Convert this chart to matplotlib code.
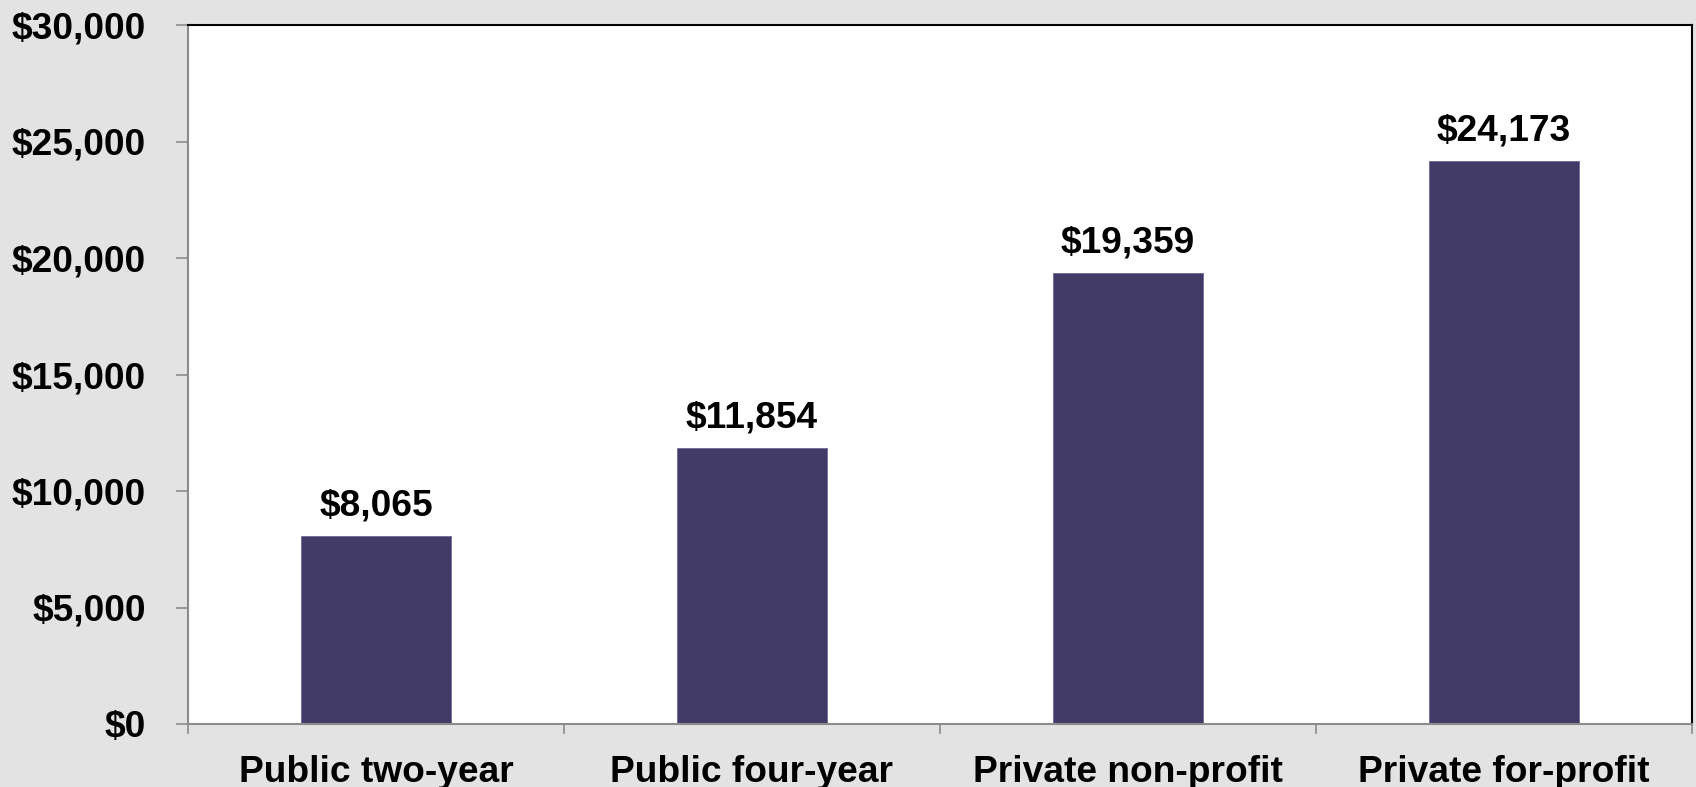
import matplotlib
matplotlib.use("Agg")
import matplotlib.pyplot as plt
import numpy as np
from matplotlib.ticker import FuncFormatter, FixedLocator

categories = ["Public two-year", "Public four-year", "Private non-profit", "Private for-profit"]
values = [8065, 11854, 19359, 24173]
y_ticks = [0, 5000, 10000, 15000, 20000, 25000, 30000]

plt.rcParams["font.family"] = ["Liberation Sans", "DejaVu Sans"]
plt.rcParams["font.weight"] = "bold"

bg = "#e3e3e3"
bar_color = "#433b67"
axis_gray = "#8c8c8c"
fs = 26.7

fig = plt.figure(figsize=(16.96, 7.87), dpi=100, facecolor=bg)
ax = fig.add_axes([188 / 1696, 1 - 724 / 787, (1692 - 188) / 1696, (724 - 25) / 787])
ax.set_facecolor("white")

x = np.arange(len(categories))
bars = ax.bar(x, values, width=0.40, color=bar_color, edgecolor="#6e6890", linewidth=0.6, zorder=2)

for xi, v in zip(x, values):
    ax.annotate(f"${v:,.0f}", (xi, v), xytext=(0, 9), textcoords="offset points",
                ha="center", va="bottom", fontsize=fs, fontweight="bold", color="black")

ax.set_xlim(-0.5, len(categories) - 0.5)
ax.set_ylim(0, 30000)

ax.yaxis.set_major_locator(FixedLocator(y_ticks))
ax.yaxis.set_major_formatter(FuncFormatter(lambda v, p: f"${v:,.0f}"))
ax.tick_params(axis="y", direction="out", length=8.5, width=1.2, color=axis_gray,
               labelsize=fs, pad=22, labelcolor="black")

ax.set_xticks(x)
ax.set_xticklabels(categories)
ax.set_xticks(np.arange(-0.5, len(categories)), minor=True)
ax.tick_params(axis="x", which="major", length=0, labelsize=fs, pad=22, labelcolor="black")
ax.tick_params(axis="x", which="minor", direction="out", length=7.5, width=1.2, color=axis_gray)

for lab in ax.get_xticklabels() + ax.get_yticklabels():
    lab.set_fontweight("bold")

for side in ("left", "bottom"):
    ax.spines[side].set_color(axis_gray)
    ax.spines[side].set_linewidth(1.5)
for side in ("top", "right"):
    ax.spines[side].set_color("black")
    ax.spines[side].set_linewidth(1.5)

fig.savefig("out.png", dpi=100, facecolor=bg)
